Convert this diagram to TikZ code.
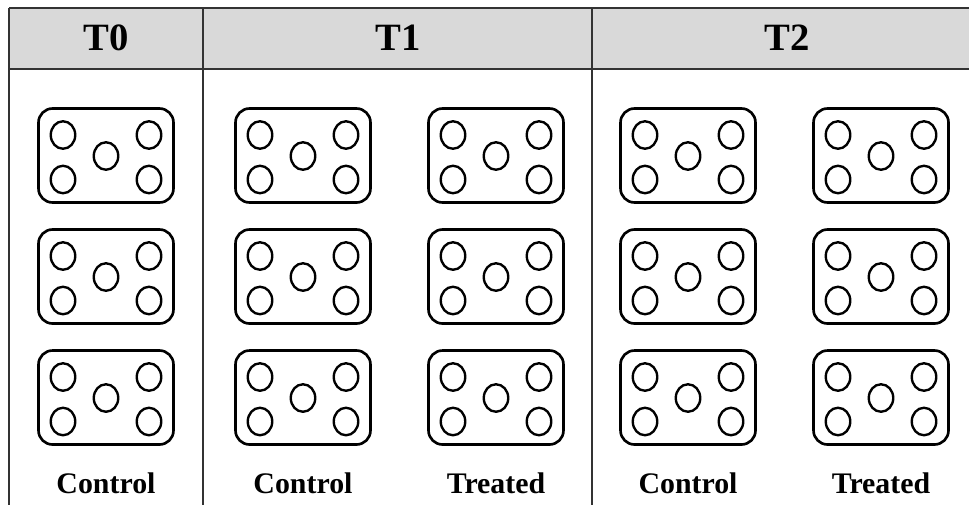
\documentclass[tikz,border=0pt]{standalone}
\usepackage{fontspec}
\setmainfont{Liberation Serif}
\usepackage{tikz}
\usetikzlibrary{positioning,shapes.geometric}

\begin{document}
\begin{tikzpicture}
    [x=0.02cm, y=-0.02cm,
      grid/.style={draw=black!80, line width=1.1pt},
      head/.style={font=\bfseries\fontsize{22}{24}\selectfont, inner sep=0pt},
      tag/.style={font=\bfseries\fontsize{17}{19}\selectfont, inner sep=0pt},
      plate/.style={rectangle, draw=black, line width=1.5pt, rounded corners=0.28cm,
        minimum width=2.7cm, minimum height=1.88cm, inner sep=0pt},
      well/.style={ellipse, draw=black, line width=1.35pt,
        minimum width=0.49cm, minimum height=0.55cm, inner sep=0pt}]

    \useasboundingbox (0,0) rectangle (969,505);

    % header band and table rules
    \fill[black!15] (9,8) rectangle (969,69);
    \draw[grid] (9,8) -- (969,8);
    \draw[grid] (9,69) -- (969,69);
    \draw[grid] (9,8) -- (9,505);
    \draw[grid] (203,8) -- (203,505);
    \draw[grid] (592,8) -- (592,505);

    \node (t0) at (106,38) [head] {T0};
    \node (t1) at (398,38) [head] {T1};
    \node (t2) at (787,38) [head] {T2};

    % plates with five wells each
    \foreach \col/\x in {a/106,b/303,c/496,d/688,e/881}
      \foreach \row/\y in {1/155.5,2/276.5,3/397.5} {
        \node (p\col\row) at (\x,\y) [plate] {};
        \node (p\col\row-tl) at (\x-43,\y-20.5) [well] {};
        \node (p\col\row-bl) at (\x-43,\y+24) [well] {};
        \node (p\col\row-tr) at (\x+43,\y-20.5) [well] {};
        \node (p\col\row-br) at (\x+43,\y+24) [well] {};
        \node (p\col\row-m) at (\x,\y+0.5) [well] {};
      }

    \node (la) at (106,483) [tag] {Control};
    \node (lb) at (303,483) [tag] {Control};
    \node (lc) at (496,483) [tag] {Treated};
    \node (ld) at (688,483) [tag] {Control};
    \node (le) at (881,483) [tag] {Treated};
\end{tikzpicture}
\end{document}
